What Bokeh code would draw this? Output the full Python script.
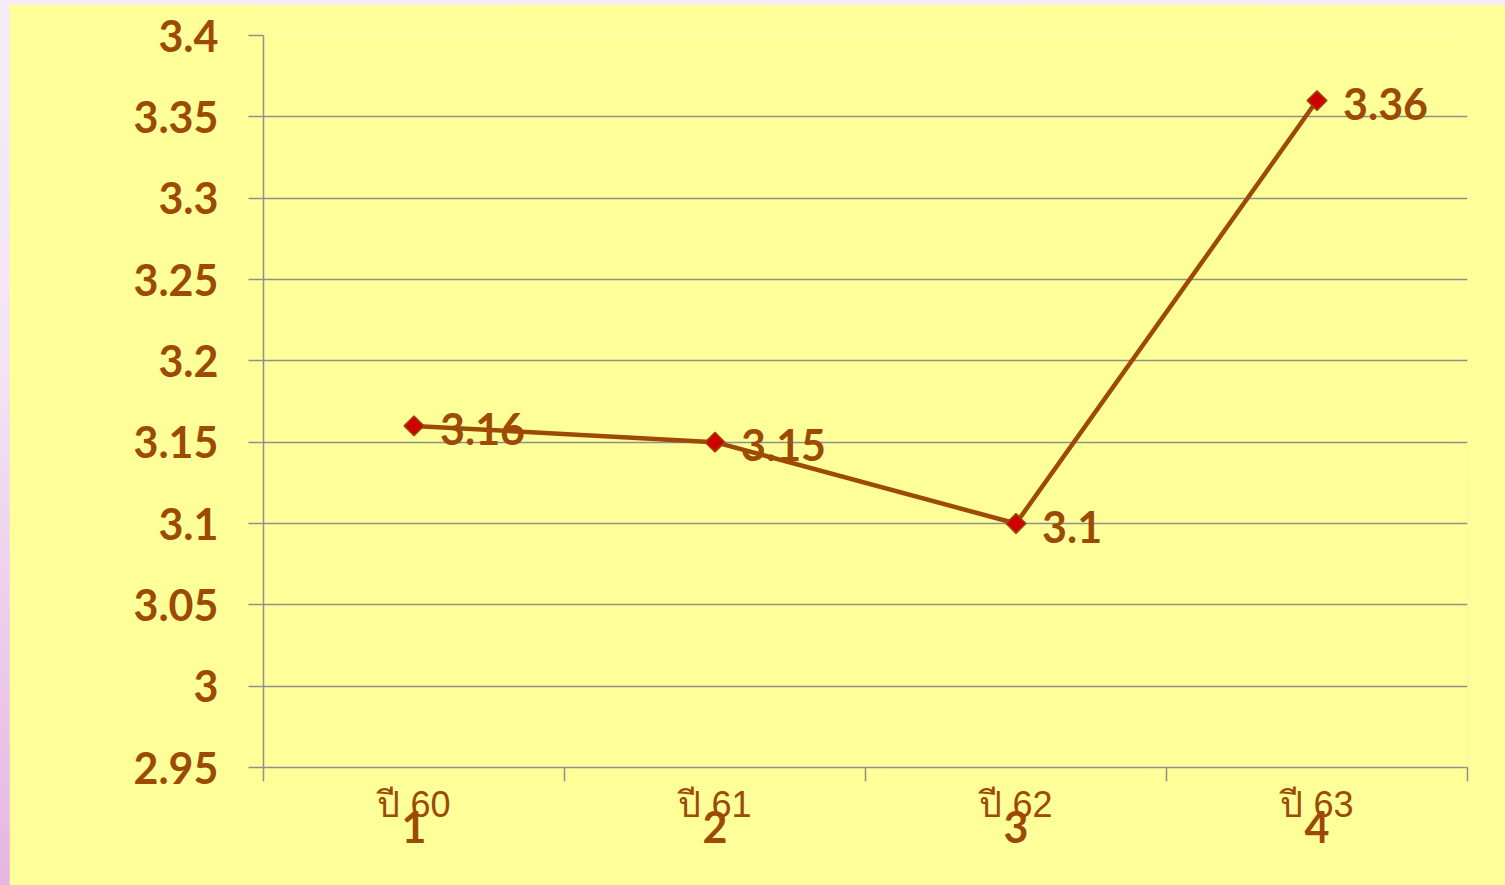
from bokeh.plotting import figure
from bokeh.models import ColumnDataSource, FixedTicker, Range1d, LinearAxis
from bokeh.layouts import column
from bokeh.embed import file_html
from bokeh.resources import INLINE
from bokeh.core.properties import value

# ---- data ----
categories = ["1", "2", "3", "4"]
year_labels = ["ปี 60", "ปี 61", "ปี 62", "ปี 63"]
values = [3.16, 3.15, 3.10, 3.36]
value_labels = ["3.16", "3.15", "3.1", "3.36"]
y_ticks = [2.95, 3.0, 3.05, 3.1, 3.15, 3.2, 3.25, 3.3, 3.35, 3.4]
y_tick_labels = ["2.95", "3", "3.05", "3.1", "3.15", "3.2", "3.25", "3.3", "3.35", "3.4"]

BROWN = "#9C4A06"
GRID = "#8f8f8f"
YELLOW = "#FFFF99"

xs = [i + 1 for i in range(len(categories))]
bounds = [i + 0.5 for i in range(len(categories) + 1)]
src = ColumnDataSource(dict(x=xs, y=values, lbl=value_labels))

p = figure(width=1496, height=881, output_backend="svg", toolbar_location=None,
           x_range=Range1d(0.5, len(categories) + 0.5), y_range=Range1d(y_ticks[0], y_ticks[-1]),
           min_border_left=254, min_border_right=38, min_border_top=31, min_border_bottom=118,
           background_fill_color=YELLOW, border_fill_color=YELLOW, outline_line_color=None,
           margin=(4, 0, 0, 9), x_axis_location=None)

# y axis
p.yaxis.ticker = FixedTicker(ticks=y_ticks)
p.yaxis.major_label_overrides = {t: l for t, l in zip(y_ticks, y_tick_labels)}
p.yaxis.major_label_text_font = "Lato"
p.yaxis.major_label_text_font_style = "bold"
p.yaxis.major_label_text_font_size = "43px"
p.yaxis.major_label_text_color = BROWN
p.yaxis.major_tick_out = 15
p.yaxis.major_tick_in = 0
p.yaxis.minor_tick_line_color = None
p.yaxis.axis_line_color = GRID
p.yaxis.axis_line_width = 1.5
p.yaxis.major_tick_line_color = GRID
p.yaxis.major_tick_line_width = 1.5
p.yaxis.major_label_standoff = 30

# x axis 1: boundary ticks (minor) and year labels at category centres
ax1 = LinearAxis(ticker=FixedTicker(ticks=xs, minor_ticks=bounds),
                 major_label_overrides={x: l for x, l in zip(xs, year_labels)},
                 major_tick_out=0, major_tick_in=0, minor_tick_out=14, minor_tick_in=0,
                 minor_tick_line_color=GRID, minor_tick_line_width=1.5,
                 major_tick_line_color=None, axis_line_color=GRID, axis_line_width=1.5,
                 major_label_text_font="Liberation Sans", major_label_text_font_size="36px",
                 major_label_text_color=BROWN, major_label_standoff=2)
p.add_layout(ax1, "below")

# x axis 2: bold category numbers, overlapping the year labels
ax2 = LinearAxis(ticker=FixedTicker(ticks=xs, minor_ticks=[]),
                 major_label_overrides={x: c for x, c in zip(xs, categories)},
                 major_tick_out=0, major_tick_in=0, minor_tick_out=0, minor_tick_in=0,
                 major_tick_line_color=None, minor_tick_line_color=None, axis_line_color=None,
                 major_label_text_font="Lato", major_label_text_font_style="bold",
                 major_label_text_font_size="43px", major_label_text_color=BROWN,
                 major_label_standoff=-17)
p.add_layout(ax2, "below")

p.xgrid.grid_line_color = None
p.ygrid.ticker = FixedTicker(ticks=y_ticks)
p.ygrid.grid_line_color = GRID
p.ygrid.grid_line_width = 1.5

# series
p.line("x", "y", source=src, line_color=BROWN, line_width=4.5)
p.scatter("x", "y", source=src, marker="square", angle=0.785398, size=14,
          fill_color="#CC0000", line_color=BROWN, line_width=1.5)
p.text("x", "y", text="lbl", source=src, x_offset=26, y_offset=3,
       text_font=value("Lato"), text_font_style="bold", text_font_size="43px",
       text_color=BROWN, text_baseline="middle", text_align="left")

layout = column(p, styles={"background": "linear-gradient(#f6ecf8, #f3e4f4 40%, #e6b6e4)"},
                width=1505, height=885)

open("out.html", "w").write(file_html(layout, INLINE))
